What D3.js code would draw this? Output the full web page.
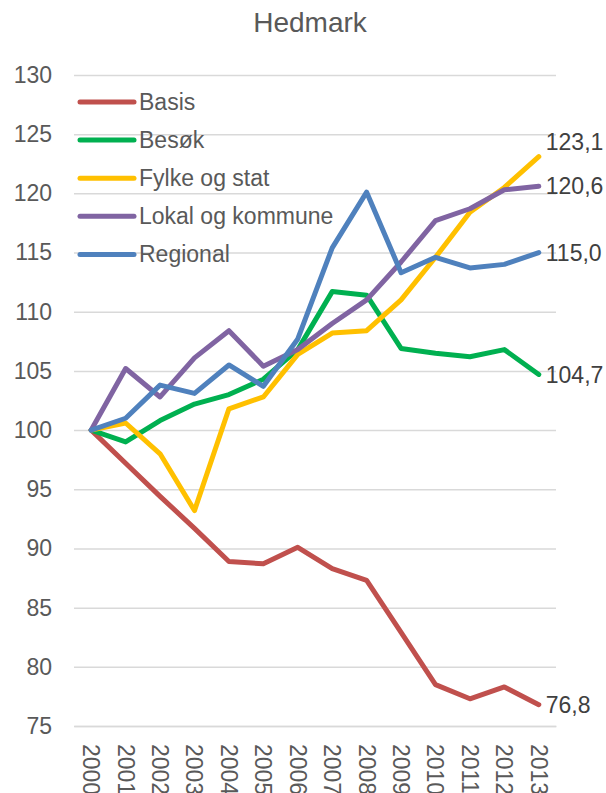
<!DOCTYPE html>
<html>
<head>
<meta charset="utf-8">
<script src="https://cdn.jsdelivr.net/npm/d3@7"></script>
<style>
  body { margin: 0; background: #fff; }
  svg { display: block; font-family: 'Liberation Sans', Arial, sans-serif; }
  .axis text { fill: #595959; font-size: 23px; }
  .grid line { stroke: #d9d9d9; stroke-width: 1.5; }
</style>
</head>
<body>
<svg width="606" height="793"></svg>
<script>
const years = ['2000','2001','2002','2003','2004','2005','2006','2007','2008','2009','2010','2011','2012','2013'];
const yTicks = [75, 80, 85, 90, 95, 100, 105, 110, 115, 120, 125, 130];

const basis    = [100, 97.2, 94.4, 91.7, 88.9, 88.7, 90.1, 88.3, 87.3, 82.9, 78.5, 77.3, 78.3, 76.8];
const besok    = [100, 99.0, 100.8, 102.2, 103.0, 104.3, 106.8, 111.7, 111.4, 106.9, 106.5, 106.2, 106.8, 104.7];
const fylke    = [100, 100.6, 98.0, 93.2, 101.8, 102.8, 106.4, 108.2, 108.4, 111.0, 114.6, 118.4, 120.5, 123.1];
const lokal    = [100, 105.2, 102.8, 106.1, 108.4, 105.4, 106.8, 109.0, 111.0, 114.2, 117.7, 118.7, 120.3, 120.6];
const regional = [100, 101.0, 103.8, 103.1, 105.5, 103.7, 107.7, 115.4, 120.1, 113.3, 114.6, 113.7, 114.0, 115.0];

const seriesNames = ['Basis', 'Besøk', 'Fylke og stat', 'Lokal og kommune', 'Regional'];
const seriesValues = [basis, besok, fylke, lokal, regional];
const colors = ['#c0504d', '#00b050', '#ffc000', '#8064a2', '#4f81bd'];

const svg = d3.select('svg');
const margin = {top: 75, right: 50, bottom: 67, left: 74};
const width = +svg.attr('width') - margin.left - margin.right,
      height = +svg.attr('height') - margin.top - margin.bottom;

const g = svg.append('g')
  .attr('transform', 'translate(' + margin.left + ',' + margin.top + ')');

const x = d3.scaleBand().domain(years).range([0, width]);
const y = d3.scaleLinear().domain([75, 130]).range([height, 0]);

// title
svg.append('text')
  .attr('x', 310)
  .attr('y', 32)
  .attr('text-anchor', 'middle')
  .attr('fill', '#595959')
  .style('font-size', '28px')
  .text('Hedmark');

// gridlines
g.append('g')
  .attr('class', 'grid')
  .call(d3.axisLeft(y).tickValues(yTicks).tickSize(-width).tickFormat(''))
  .call(s => s.select('.domain').remove());

// y axis labels
g.append('g')
  .attr('class', 'axis')
  .call(d3.axisLeft(y).tickValues(yTicks).tickSize(0).tickPadding(22))
  .call(s => s.select('.domain').remove());

// x axis
const xAxis = g.append('g')
  .attr('class', 'axis')
  .attr('transform', 'translate(0,' + height + ')')
  .call(d3.axisBottom(x).tickSize(0).tickPadding(0));
xAxis.select('.domain').attr('stroke', '#d9d9d9').attr('stroke-width', 1.5);
xAxis.selectAll('text')
  .attr('transform', 'rotate(90)')
  .attr('text-anchor', 'start')
  .attr('x', 18)
  .attr('y', 0)
  .attr('dy', '0.35em');

const line = d3.line()
  .x((d, i) => x(years[i]) + x.bandwidth() / 2)
  .y(d => y(d));

// lines
seriesValues.forEach((vals, k) => {
  g.append('path')
    .datum(vals)
    .attr('fill', 'none')
    .attr('stroke', colors[k])
    .attr('stroke-width', 5)
    .attr('stroke-linejoin', 'round')
    .attr('stroke-linecap', 'round')
    .attr('d', line);
});

// end labels (fylke label nudged up like the original)
const labelShift = {'Fylke og stat': -15};
seriesValues.forEach((vals, k) => {
  const last = vals[vals.length - 1];
  g.append('text')
    .attr('x', x(years[years.length - 1]) + x.bandwidth() / 2 + 7)
    .attr('y', y(last) + (labelShift[seriesNames[k]] || 0))
    .attr('dy', '0.35em')
    .attr('fill', '#404040')
    .style('font-size', '23px')
    .text(last.toFixed(1).replace('.', ','));
});

// legend
const legend = svg.append('g').attr('transform', 'translate(80,102)');
seriesNames.forEach((name, k) => {
  const row = legend.append('g').attr('transform', 'translate(0,' + (k * 38.1) + ')');
  row.append('line')
    .attr('x1', 0).attr('x2', 54)
    .attr('stroke', colors[k])
    .attr('stroke-width', 5)
    .attr('stroke-linecap', 'round');
  row.append('text')
    .attr('x', 59)
    .attr('dy', '0.35em')
    .attr('fill', '#595959')
    .style('font-size', '23px')
    .text(name);
});
</script>
</body>
</html>
